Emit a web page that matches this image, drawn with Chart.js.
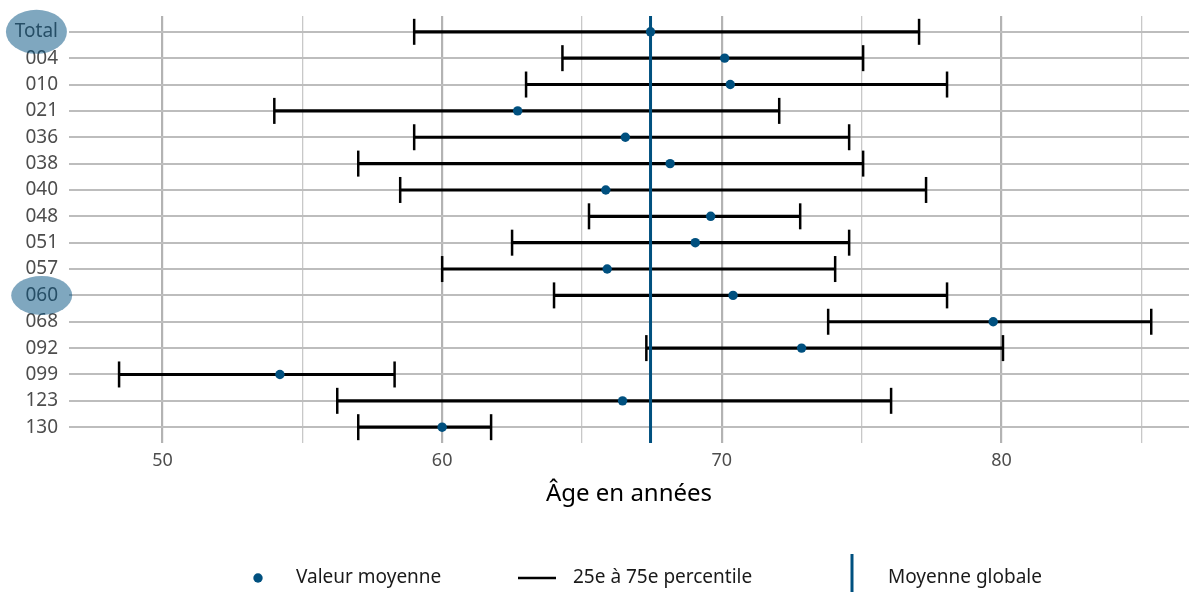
<!DOCTYPE html>
<html>
<head>
<meta charset="utf-8">
<script src="https://cdn.jsdelivr.net/npm/chart.js@4.4.1/dist/chart.umd.min.js"></script>
<style>
  html, body { margin: 0; padding: 0; background: #fff; overflow: hidden; }
  #wrap { width: 1189px; height: 592px; position: relative; }
  canvas { display: block; }
</style>
</head>
<body>
<div id="wrap"><canvas id="ageChart"></canvas></div>
<script>
// categories, top to bottom
const categories = ["Total", "004", "010", "021", "036", "038", "040", "048", "051", "057", "060", "068", "092", "099", "123", "130"];
const meanValues = [67.45, 70.1, 70.3, 62.7, 66.55, 68.15, 65.85, 69.6, 69.05, 65.9, 70.4, 79.7, 72.85, 54.2, 66.45, 60.0];
const p25Values = [59.0, 64.3, 63.0, 54.0, 59.0, 57.0, 58.5, 65.25, 62.5, 60.0, 64.0, 73.8, 67.3, 48.45, 56.25, 57.0];
const p75Values = [77.05, 75.05, 78.05, 72.05, 74.55, 75.05, 77.3, 72.8, 74.55, 74.05, 78.05, 85.35, 80.05, 58.3, 76.05, 61.75];
const globalMean = 67.45;
const xTicks = [50, 55, 60, 65, 70, 75, 80, 85];
const highlighted = ["Total", "060"];

const BLUE = "#00507f";
const FONT = "'Noto Sans', 'Open Sans', sans-serif";
const LABEL_SIZE = 19;

const rangeData = categories.map((c, i) => ({ x: [p25Values[i], p75Values[i]], y: i }));
const capData = categories.flatMap((c, i) => [{ x: p25Values[i], y: i }, { x: p75Values[i], y: i }]);
const meanData = categories.map((c, i) => ({ x: meanValues[i], y: i }));

// ellipses over highlighted labels + legend
const extras = {
  id: "extras",
  afterDraw(chart) {
    const ctx = chart.ctx;
    const yScale = chart.scales.y;
    ctx.save();
    highlighted.forEach(name => {
      const i = categories.indexOf(name);
      const y = yScale.getPixelForValue(i);
      ctx.font = LABEL_SIZE + "px " + FONT;
      const w = ctx.measureText(name).width;
      const right = yScale.right - 11;
      const cx = right - w / 2;
      ctx.fillStyle = "rgba(0,80,127,0.5)";
      ctx.beginPath();
      ctx.ellipse(cx, y, 30.5, name === "Total" ? 22 : 19.5, 0, 0, Math.PI * 2);
      ctx.fill();
    });

    // legend
    const ly = 578;
    ctx.fillStyle = BLUE;
    ctx.beginPath();
    ctx.arc(258, ly, 4.7, 0, Math.PI * 2);
    ctx.fill();
    ctx.strokeStyle = "#000";
    ctx.lineWidth = 2.5;
    ctx.beginPath();
    ctx.moveTo(518, ly);
    ctx.lineTo(556, ly);
    ctx.stroke();
    ctx.strokeStyle = BLUE;
    ctx.lineWidth = 3;
    ctx.beginPath();
    ctx.moveTo(852, 554);
    ctx.lineTo(852, 592);
    ctx.stroke();
    ctx.fillStyle = "#1a1a1a";
    ctx.font = "19px " + FONT;
    ctx.textBaseline = "middle";
    ctx.textAlign = "left";
    ctx.fillText("Valeur moyenne", 296, ly);
    ctx.fillText("25e à 75e percentile", 573, ly);
    ctx.fillText("Moyenne globale", 888, ly);
    ctx.restore();
  }
};

new Chart(document.getElementById("ageChart"), {
  type: "scatter",
  data: {
    datasets: [
      {
        type: "line",
        label: "Moyenne globale",
        data: [{ x: globalMean, y: -0.6 }, { x: globalMean, y: 15.6 }],
        borderColor: BLUE,
        borderWidth: 3,
        pointRadius: 0,
        order: 0
      },
      {
        type: "scatter",
        label: "Valeur moyenne",
        data: meanData,
        backgroundColor: BLUE,
        borderWidth: 0,
        pointRadius: 4.7,
        order: 1
      },
      {
        type: "scatter",
        label: "caps",
        data: capData,
        pointStyle: "line",
        rotation: 90,
        pointRadius: 13,
        borderColor: "#000",
        borderWidth: 2.5,
        order: 2
      },
      {
        type: "bar",
        label: "25e à 75e percentile",
        indexAxis: "y",
        data: rangeData,
        backgroundColor: "#000",
        barThickness: 2.5,
        grouped: false,
        order: 3
      }
    ]
  },
  options: {
    responsive: true,
    maintainAspectRatio: false,
    animation: false,
    layout: { autoPadding: false, padding: { top: 16, right: 0, left: 0, bottom: 83 } },
    plugins: { legend: { display: false }, tooltip: { enabled: false } },
    scales: {
      x: {
        type: "linear",
        min: 46.66,
        max: 86.7,
        offset: false,
        afterBuildTicks: s => { s.ticks = xTicks.map(v => ({ value: v })); },
        afterFit: s => { s.height = 66; s.paddingLeft = 0; s.paddingRight = 0; },
        border: { display: false },
        grid: {
          drawTicks: false,
          offset: false,
          color: ctx => (ctx.tick && ctx.tick.value % 10 === 0) ? "#b3b3b3" : "#c8c8c8",
          lineWidth: ctx => (ctx.tick && ctx.tick.value % 10 === 0) ? 2.2 : 1.3
        },
        ticks: {
          padding: 7,
          color: "#4d4d4d",
          font: { family: FONT, size: 18 },
          maxRotation: 0,
          callback: v => (v % 10 === 0 ? String(v) : "")
        },
        title: {
          display: true,
          text: "Âge en années",
          color: "#000",
          font: { family: FONT, size: 24 },
          padding: 0
        }
      },
      y: {
        type: "linear",
        reverse: true,
        min: -0.6,
        max: 15.6,
        offset: false,
        afterBuildTicks: s => { s.ticks = categories.map((c, i) => ({ value: i })); },
        afterFit: s => { s.width = 69; s.paddingTop = 0; s.paddingBottom = 0; },
        border: { display: false },
        grid: { drawTicks: false, offset: false, color: "#bdbdbd", lineWidth: 2 },
        ticks: {
          padding: 11,
          color: "#4d4d4d",
          font: { family: FONT, size: LABEL_SIZE },
          callback: v => categories[v]
        }
      }
    }
  },
  plugins: [extras]
});
</script>
</body>
</html>
